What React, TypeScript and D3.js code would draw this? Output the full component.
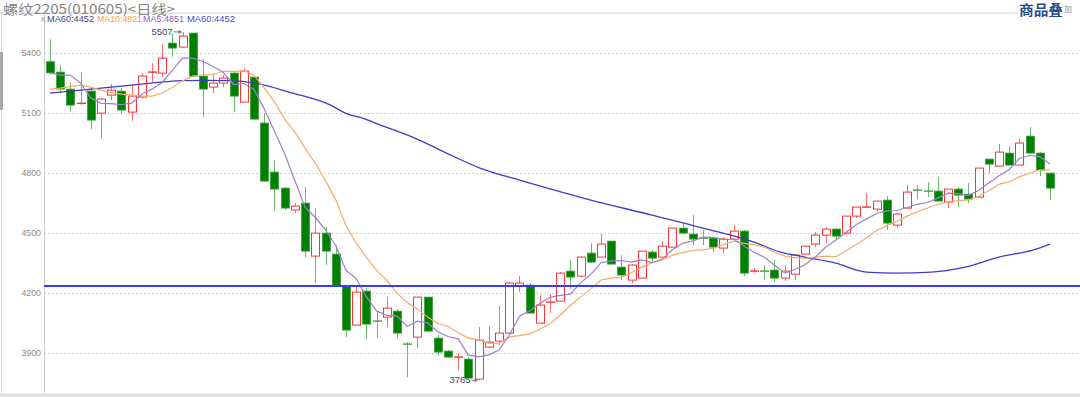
import React from "react";
import * as d3 from "d3";

// ---- data ----
const opens = [5358,5306,5221,5146,5211,5101,5191,5211,5106,5181,5301,5301,5451,5431,5501,5286,5231,5251,5301,5156,5281,5051,4806,4726,4616,4651,4386,4501,4396,4236,4041,4211,4061,4081,4111,3946,3981,4181,3976,3911,3876,3871,3771,3931,3961,4001,4236,4241,4051,4151,4161,4311,4286,4401,4381,4461,4331,4266,4276,4406,4381,4431,4526,4496,4476,4476,4426,4471,4511,4306,4311,4316,4276,4296,4396,4446,4491,4521,4501,4586,4626,4621,4666,4541,4626,4716,4711,4711,4656,4721,4696,4681,4871,4836,4901,4841,4986,4901,4801];
const highs = [5470,5341,5256,5306,5231,5176,5246,5226,5241,5301,5351,5446,5501,5507,5501,5371,5301,5291,5306,5326,5286,5101,4866,4731,4651,4731,4626,4531,4441,4236,4231,4226,4106,4181,4121,3956,4181,4181,3991,3916,3901,3881,4031,4036,4136,4256,4286,4251,4191,4196,4306,4366,4386,4451,4496,4461,4391,4346,4411,4416,4461,4526,4551,4591,4516,4476,4481,4541,4516,4326,4341,4366,4341,4396,4436,4506,4531,4526,4586,4631,4701,4661,4686,4601,4741,4741,4756,4781,4721,4731,4751,4826,4871,4946,4936,4971,5031,4906,4801];
const lows = [5295,5201,5106,5141,5021,4976,5166,5096,5061,5176,5251,5281,5381,5426,5281,5081,5201,5231,5106,5156,5066,4756,4616,4616,4601,4381,4251,4341,4236,3981,4041,3971,3976,4031,3976,3781,3926,4006,3891,3876,3816,3770,3765,3926,3941,3996,4206,4101,4051,4101,4161,4221,4281,4351,4381,4346,4266,4251,4276,4356,4381,4431,4496,4441,4441,4406,4401,4471,4286,4301,4266,4256,4261,4266,4396,4431,4451,4466,4491,4576,4626,4611,4516,4526,4626,4671,4681,4661,4626,4631,4651,4676,4801,4836,4841,4841,4901,4786,4666];
const closes = [5302,5221,5141,5150,5066,5171,5216,5116,5186,5286,5306,5376,5426,5486,5286,5221,5251,5276,5186,5311,5071,4761,4721,4626,4636,4411,4501,4411,4236,4016,4206,4046,4056,4126,4001,3941,4181,4011,3906,3881,3881,3776,3966,3956,4001,4251,4251,4101,4141,4156,4301,4281,4381,4356,4446,4346,4291,4341,4411,4376,4436,4526,4501,4471,4471,4431,4471,4511,4301,4311,4306,4276,4311,4391,4436,4491,4521,4486,4586,4631,4631,4661,4551,4596,4706,4711,4706,4661,4721,4691,4671,4826,4846,4906,4841,4951,4901,4816,4726];

// moving-average values before enough bars exist in the window
const ma5Lead = [5301, 5291, 5291, 5251];
const ma10Lead = [5221, 5226, 5233, 5241, 5231, 5216, 5203, 5196, 5191];

// MA60 read at bar positions
const ma60Idx = [0,4,8,13,15,17.6,20.6,23.5,27.5,29,30.7,32.4,35.6,38.9,42.2,46,49,53,59,64,69,71.6,74,77,80,83,86.4,89.7,93,96.3,98];
const ma60Val = [5201,5221,5241,5263,5265,5263,5246,5205,5141,5100,5075,5041,4980,4900,4825,4766,4722,4666,4591,4526,4456,4406,4381,4351,4306,4301,4306,4331,4381,4416,4446];

const yTicks = [5400, 5100, 4800, 4500, 4200, 3900];
const supportLevel = 4236;
const title = "螺纹2205(010605)<日线>";
const legendLabels = ["MA60:4452", "MA10:4821", "MA5:4851", "MA60:4452"];
const legendColors = ["#3d4a86", "#f5a04e", "#8f63c4", "#4646d8"];
const maxLabel = "5507";
const minLabel = "3765";

const RED = "#ff3333";
const RED_WICK = "#ff6a6a";
const GREEN = "#008000";
const GREEN_WICK = "#6cb86c";

export default function App() {
  const W = 1080, H = 397;
  const n = closes.length;
  const x = d3.scaleLinear().domain([0, n - 1]).range([50, 1050]);
  const y = d3.scaleLinear().domain([3900, 5400]).range([353.3, 53.3]);

  const ma = (p: number, lead: number[]) =>
    closes.map((_, i) => (i < p - 1 ? lead[i] : (d3.mean(closes.slice(i - p + 1, i + 1)) as number)));
  const ma5 = ma(5, ma5Lead);
  const ma10 = ma(10, ma10Lead);

  const lineIdx = d3.line<number>().x((_, i) => x(i)).y((d) => y(d));
  const ma60Line = d3
    .line<number>()
    .x((_, i) => x(ma60Idx[i]))
    .y((d) => y(d))
    .curve(d3.curveMonotoneX);

  const hiIdx = highs.indexOf(d3.max(highs) as number);
  const loIdx = lows.indexOf(d3.min(lows) as number);

  const bw = 8;
  const legendX = [47, 97, 143, 187];
  const legendW = [47, 45, 41, 48];

  return (
    <div style={{ position: "absolute", left: 0, top: 0, width: W, height: H, background: "#fff" }}>
      <svg width={W} height={H} style={{ display: "block", fontFamily: "'Liberation Sans', Arial, sans-serif" }}>
        <rect x={0} y={0} width={W} height={H} fill="#fff" />
        {/* left strip */}
        <line x1={1.5} x2={1.5} y1={13} y2={H} stroke="#d8d8d8" strokeWidth={1} />
        <rect x={0} y={52} width={3} height={58} fill="#a8a8a8" />
        {/* header */}
        <line x1={0} x2={1018} y1={13} y2={13} stroke="#cfcfcf" strokeWidth={1} />
        <text
          x={3}
          y={13.5}
          fontSize={13}
          fill="#858585"
          textLength={172}
          lengthAdjust="spacingAndGlyphs"
          style={{ fontFamily: "'Noto Sans CJK SC', sans-serif" }}
        >
          {title}
        </text>
        <text x={1019} y={15} fontSize={13.5} fontWeight="bold" fill="#1f4f8f" textLength={44} lengthAdjust="spacingAndGlyphs" style={{ fontFamily: "'Noto Sans CJK SC', sans-serif" }}>
          商品叠
        </text>
        <text x={1064} y={12} fontSize={8} fill="#7d93b5" style={{ fontFamily: "'Noto Sans CJK SC', sans-serif" }}>
          加
        </text>

        {/* grid */}
        {yTicks.map((t) => (
          <g key={t}>
            <line x1={44} x2={W} y1={Math.round(y(t)) + 0.5} y2={Math.round(y(t)) + 0.5} stroke="#d0d0d0" strokeDasharray="2,2" />
            <text x={41} y={y(t) + 3} fontSize={8.8} fill="#8c8c8c" textAnchor="end">
              {t}
            </text>
          </g>
        ))}
        {/* axis */}
        <line x1={44.5} x2={44.5} y1={13} y2={394} stroke="#cccccc" />
        <rect x={0} y={393.5} width={W} height={4} fill="#e2e2e2" />

        {/* legend */}
        <text x={41} y={22} fontSize={8} fill="#999">K</text>
        {legendLabels.map((l, i) => (
          <text key={i} x={legendX[i]} y={22} fontSize={9.4} fill={legendColors[i]} textLength={legendW[i]} lengthAdjust="spacingAndGlyphs">
            {l}
          </text>
        ))}

        {/* candles */}
        {closes.map((c, i) => {
          const o = opens[i];
          const up = c >= o;
          const cx = Math.round(x(i));
          const top = y(Math.max(o, c));
          const bot = y(Math.min(o, c));
          const h = bot - top;
          return (
            <g key={i}>
              <line x1={cx + 0.5} x2={cx + 0.5} y1={y(highs[i])} y2={y(lows[i])} stroke={up ? RED_WICK : GREEN_WICK} strokeWidth={1} />
              {h < 1.6 ? (
                <line x1={cx - bw / 2} x2={cx + bw / 2 + 1} y1={top} y2={top} stroke={up ? RED : "#3f9f3f"} strokeWidth={1.4} />
              ) : up ? (
                <rect x={cx - bw / 2 + 0.5} y={top} width={bw} height={h} fill="#fff" stroke={RED} strokeWidth={1} />
              ) : (
                <rect x={cx - bw / 2 + 0.5} y={top} width={bw} height={h} fill={GREEN} stroke="#3c9c3c" strokeWidth={0.8} />
              )}
            </g>
          );
        })}

        {/* moving averages */}
        <path d={ma60Line(ma60Val) || ""} fill="none" stroke="#3c3cc8" strokeWidth={1.3} />
        <path d={lineIdx(ma10) || ""} fill="none" stroke="#f9aa66" strokeWidth={1.2} />
        <path d={lineIdx(ma5) || ""} fill="none" stroke="#9d80cc" strokeWidth={1.2} />

        {/* support line */}
        <line x1={44} x2={W} y1={y(supportLevel)} y2={y(supportLevel)} stroke="#3a3af5" strokeWidth={2} />

        {/* max / min annotations */}
        <text x={x(hiIdx) - 10} y={y(highs[hiIdx]) + 3} fontSize={9.5} fill="#3b4a6a" textAnchor="end">
          {maxLabel}
        </text>
        <line x1={x(hiIdx) - 9} x2={x(hiIdx) - 1} y1={y(highs[hiIdx])} y2={y(highs[hiIdx])} stroke="#777" />
        <path d={`M${x(hiIdx) - 1},${y(highs[hiIdx])} l-3,-2 l0,4 z`} fill="#777" />

        <text x={x(loIdx) - 8} y={y(lows[loIdx]) + 3} fontSize={9.5} fill="#3b4a6a" textAnchor="end">
          {minLabel}
        </text>
        <line x1={x(loIdx) - 7} x2={x(loIdx) - 1} y1={y(lows[loIdx])} y2={y(lows[loIdx])} stroke="#777" />
        <path d={`M${x(loIdx) - 1},${y(lows[loIdx])} l-3,-2 l0,4 z`} fill="#777" />
      </svg>
    </div>
  );
}
